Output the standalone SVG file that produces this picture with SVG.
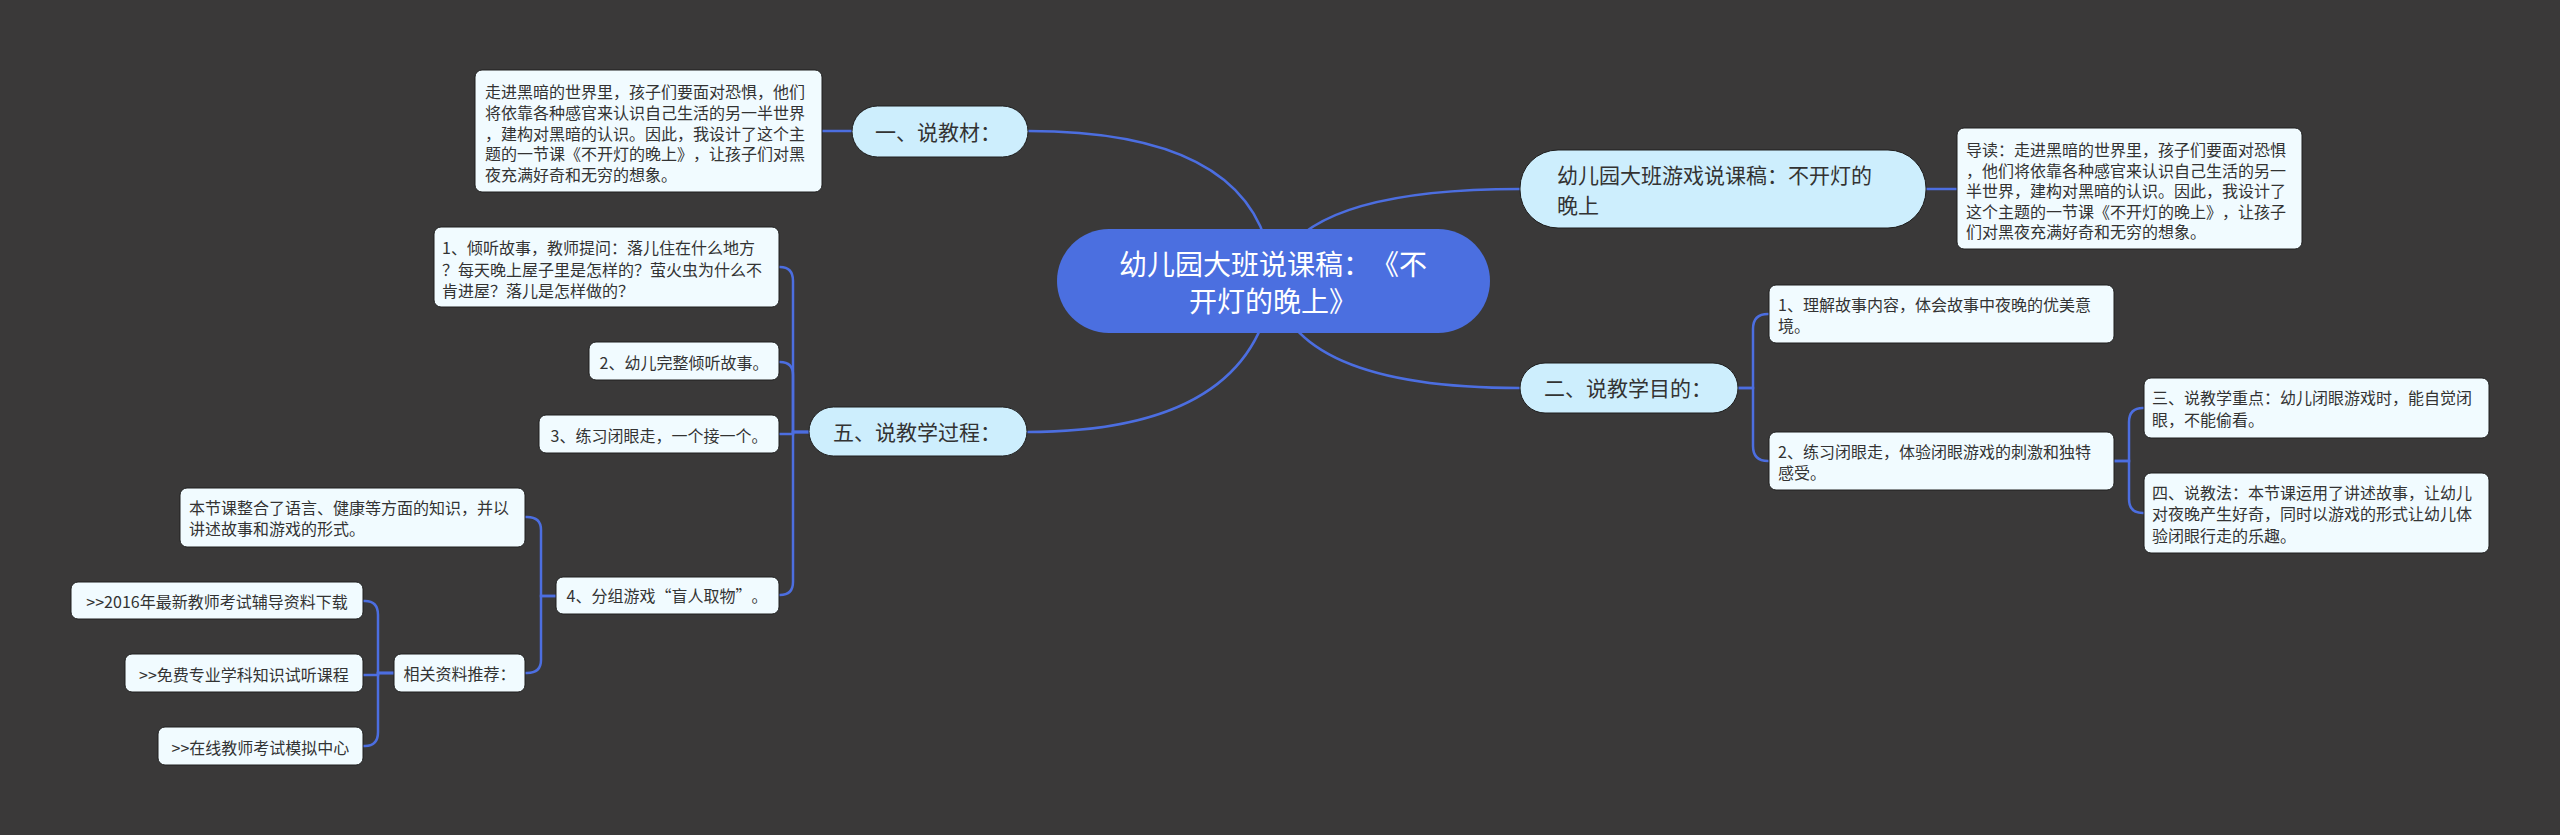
<svg xmlns="http://www.w3.org/2000/svg" width="2560" height="835" viewBox="0 0 2560 835" lang="zh-CN">
<style>
text{font-family:"Noto Sans CJK SC","Microsoft YaHei",sans-serif;fill:#333;text-spacing-trim:space-all}
.root{fill:#4b6fe0}
.rt{fill:#fff;font-size:28px}
.l1{fill:#cdeefd;stroke:#1e1e1e;stroke-width:1}
.t1{font-size:21px}
.leaf{fill:#f1fbff;stroke:#1e1e1e;stroke-width:1}
.t2{font-size:16px}
.c{fill:none;stroke:#4c6ee0;stroke-width:2.5}
.m{text-anchor:middle}
</style>
<rect width="2560" height="835" fill="#3a3939"/>
<g id="connectors">
<path class="c" d="M1273,281 Q1265,131 1028,131"/>
<path class="c" d="M852,131 L821,131"/>
<path class="c" d="M1273,281 Q1290,189 1520,189"/>
<path class="c" d="M1926,189 L1957,189"/>
<path class="c" d="M1273,281 Q1290,388 1520,388"/>
<path class="c" d="M1273,281 Q1255,432 1027,432"/>
<path class="c" d="M1738,388 L1753,388 L1753,329 Q1753,314 1768,314 L1769,314"/>
<path class="c" d="M1738,388 L1753,388 L1753,446 Q1753,461 1768,461 L1769,461"/>
<path class="c" d="M2114,461 L2129,461 L2129,422 Q2129,408 2143,408 L2144,408"/>
<path class="c" d="M2114,461 L2129,461 L2129,499 Q2129,513 2143,513 L2144,513"/>
<path class="c" d="M809,432 L793,432 L793,281 Q793,267 780,267 L779,267"/>
<path class="c" d="M809,432 L793,432 L793,375 Q793,362 780,362 L779,362"/>
<path class="c" d="M809,432 L793,432 L793,434 L779,434"/>
<path class="c" d="M809,432 L793,432 L793,582 Q793,595 780,595 L779,595"/>
<path class="c" d="M556,596 L541,596 L541,530 Q541,517 527,517 L525,517"/>
<path class="c" d="M556,596 L541,596 L541,660 Q541,673 527,673 L525,673"/>
<path class="c" d="M394,673 L378,673 L378,615 Q378,601 365,601 L363,601"/>
<path class="c" d="M394,673 L378,673 L378,675 L363,675"/>
<path class="c" d="M394,673 L378,673 L378,732 Q378,746 365,746 L363,746"/>
</g>
<g id="n-root">
<rect class="root" x="1057" y="229" width="433" height="104" rx="52"/>
<text class="rt m" x="1273" y="275">幼儿园大班说课稿：《不</text>
<text class="rt m" x="1273" y="312">开灯的晚上》</text>
</g>
<g id="n-1">
<rect class="l1" x="852" y="106" width="176" height="51" rx="25.5"/>
<text class="t1" x="875" y="139.5">一、说教材：</text>
</g>
<g id="n-1a">
<rect class="leaf" x="475" y="70" width="347" height="122" rx="7"/>
<text class="t2" x="485" y="98">走进黑暗的世界里，孩子们要面对恐惧，他们</text>
<text class="t2" x="485" y="119">将依靠各种感官来认识自己生活的另一半世界</text>
<text class="t2" x="485" y="140">，建构对黑暗的认识。因此，我设计了这个主</text>
<text class="t2" x="485" y="160">题的一节课《不开灯的晚上》，让孩子们对黑</text>
<text class="t2" x="485" y="181">夜充满好奇和无穷的想象。</text>
</g>
<g id="n-title">
<rect class="l1" x="1520" y="150" width="406" height="78" rx="38"/>
<text class="t1" x="1557" y="182.5">幼儿园大班游戏说课稿：不开灯的</text>
<text class="t1" x="1557" y="212.5">晚上</text>
</g>
<g id="n-title-a">
<rect class="leaf" x="1957" y="128" width="345" height="121" rx="7"/>
<text class="t2" x="1966" y="156">导读：走进黑暗的世界里，孩子们要面对恐惧</text>
<text class="t2" x="1966" y="177">，他们将依靠各种感官来认识自己生活的另一</text>
<text class="t2" x="1966" y="197">半世界，建构对黑暗的认识。因此，我设计了</text>
<text class="t2" x="1966" y="218">这个主题的一节课《不开灯的晚上》，让孩子</text>
<text class="t2" x="1966" y="238">们对黑夜充满好奇和无穷的想象。</text>
</g>
<g id="n-2">
<rect class="l1" x="1520" y="363" width="218" height="50" rx="25"/>
<text class="t1" x="1544" y="395.5">二、说教学目的：</text>
</g>
<g id="n-2a">
<rect class="leaf" x="1769" y="285" width="345" height="58" rx="7"/>
<text class="t2" x="1778" y="311">1、理解故事内容，体会故事中夜晚的优美意</text>
<text class="t2" x="1778" y="332">境。</text>
</g>
<g id="n-2b">
<rect class="leaf" x="1769" y="432" width="345" height="58" rx="7"/>
<text class="t2" x="1778" y="458">2、练习闭眼走，体验闭眼游戏的刺激和独特</text>
<text class="t2" x="1778" y="479">感受。</text>
</g>
<g id="n-3">
<rect class="leaf" x="2144" y="378" width="345" height="60" rx="7"/>
<text class="t2" x="2152" y="404">三、说教学重点：幼儿闭眼游戏时，能自觉闭</text>
<text class="t2" x="2152" y="426">眼，不能偷看。</text>
</g>
<g id="n-4">
<rect class="leaf" x="2144" y="473" width="345" height="80" rx="7"/>
<text class="t2" x="2152" y="499">四、说教法：本节课运用了讲述故事，让幼儿</text>
<text class="t2" x="2152" y="520">对夜晚产生好奇，同时以游戏的形式让幼儿体</text>
<text class="t2" x="2152" y="542">验闭眼行走的乐趣。</text>
</g>
<g id="n-5">
<rect class="l1" x="809" y="407" width="218" height="49" rx="24.5"/>
<text class="t1" x="833" y="439.5">五、说教学过程：</text>
</g>
<g id="n-5a">
<rect class="leaf" x="434" y="227" width="345" height="80" rx="7"/>
<text class="t2" x="442" y="254">1、倾听故事，教师提问：落儿住在什么地方</text>
<text class="t2" x="442" y="276">？每天晚上屋子里是怎样的？萤火虫为什么不</text>
<text class="t2" x="442" y="297">肯进屋？落儿是怎样做的？</text>
</g>
<g id="n-5b">
<rect class="leaf" x="589" y="342" width="190" height="38" rx="7"/>
<text class="t2 m" x="684" y="369">2、幼儿完整倾听故事。</text>
</g>
<g id="n-5c">
<rect class="leaf" x="539" y="415" width="240" height="38" rx="7"/>
<text class="t2 m" x="659" y="442">3、练习闭眼走，一个接一个。</text>
</g>
<g id="n-5d">
<rect class="leaf" x="556" y="577" width="223" height="37" rx="7"/>
<text class="t2 m" x="667" y="602">4、分组游戏“盲人取物”。</text>
</g>
<g id="n-5d1">
<rect class="leaf" x="180" y="488" width="345" height="59" rx="7"/>
<text class="t2" x="189" y="514">本节课整合了语言、健康等方面的知识，并以</text>
<text class="t2" x="189" y="535">讲述故事和游戏的形式。</text>
</g>
<g id="n-5d2">
<rect class="leaf" x="394" y="654" width="131" height="38" rx="7"/>
<text class="t2 m" x="459.5" y="680">相关资料推荐：</text>
</g>
<g id="n-r1">
<rect class="leaf" x="71" y="582" width="292" height="37" rx="7"/>
<text class="t2 m" x="217" y="608">&gt;&gt;2016年最新教师考试辅导资料下载</text>
</g>
<g id="n-r2">
<rect class="leaf" x="125" y="654" width="238" height="38" rx="7"/>
<text class="t2 m" x="244" y="681">&gt;&gt;免费专业学科知识试听课程</text>
</g>
<g id="n-r3">
<rect class="leaf" x="158" y="727" width="205" height="38" rx="7"/>
<text class="t2 m" x="260.5" y="754">&gt;&gt;在线教师考试模拟中心</text>
</g>
</svg>
